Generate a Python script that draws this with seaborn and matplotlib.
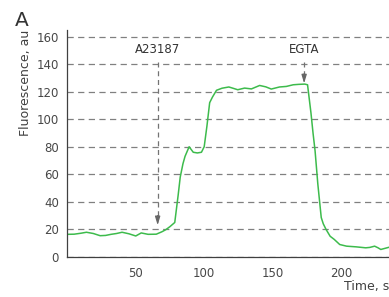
import matplotlib
matplotlib.use('Agg')
import pandas as pd
import seaborn as sns
from matplotlib import pyplot as plt

# time course
time_s = [0, 5, 10, 14, 19, 24, 28, 32, 36, 40, 45, 50, 54, 59, 65, 69, 72, 75, 78.5, 81, 82.5, 84.5, 86, 89, 92, 95, 98, 100, 102, 104, 106, 109,
          113, 118, 121, 124.5, 129.5, 134.5, 140.5, 145, 149, 155, 160, 165, 169, 173.5, 175.5, 178, 179.5, 181, 183, 185.5,
          187, 189, 192, 195, 199, 204, 211, 218, 221, 224.5, 227, 229, 232, 235]
fluor_au = [16.4, 16.5, 17.2, 17.9, 17.0, 15.4, 15.6, 16.4, 17.0, 17.9, 16.8, 15.2, 17.4, 16.4, 16.5, 18.2, 19.8, 22.0, 25.0, 45, 58, 67.7, 73, 80, 76, 75.5, 76, 80, 95, 112, 116, 121,
            122.5, 123.4, 122.5, 121.4, 122.6, 122.0, 124.5, 123.5, 121.9, 123.4, 123.8, 125.0, 125.3, 125.5, 125.0, 104.5, 90, 77, 53, 28.6,
            24, 20, 15, 12.7, 9.0, 7.8, 7.3, 6.6, 6.9, 7.8, 6.6, 5.4, 6.2, 7.0]

# (label, time, text height, arrow tip height)
events = [('A23187', 66, 150.5, 23), ('EGTA', 173, 150.5, 126)]

df = pd.DataFrame({'time': time_s, 'fluor': fluor_au})

sns.set_style('white')
plt.rcParams['font.family'] = ['DejaVu Sans']

fig = plt.figure(figsize=(3.89, 2.97), dpi=100)
ax = fig.add_axes([0.173, 0.135, 0.827, 0.765])

sns.lineplot(data=df, x='time', y='fluor', color='#3dbb4c', lw=1.1, ax=ax)

ax.set_xlim(0, 235)
ax.set_ylim(0, 165)
ax.set_xticks([50, 100, 150, 200])
ax.set_yticks(range(0, 161, 20))
ax.yaxis.grid(True, color='0.5', ls=(0, (5, 3.5)), lw=0.9)
ax.set_axisbelow(True)
for side in ['top', 'right']:
    ax.spines[side].set_visible(False)
for side in ['left', 'bottom']:
    ax.spines[side].set_color('0.25')
    ax.spines[side].set_linewidth(0.9)
ax.tick_params(axis='both', direction='out', length=4, width=0.9, color='0.25',
               labelsize=8.5, labelcolor='0.28', pad=2)
ax.tick_params(axis='x', pad=3)

ax.set_xlabel('Time, s', loc='right', fontsize=9, color='0.25', labelpad=0)
ax.set_ylabel('Fluorescence, au', loc='top', fontsize=9, color='0.25', labelpad=3)

for name, t, ytxt, ytip in events:
    ax.text(t, ytxt, name, ha='center', va='center', fontsize=8.5, color='0.2')
    ax.plot([t, t], [ytxt - 9, ytip + 7], color='0.45', ls=(0, (4, 3)), lw=0.9)
    ax.annotate('', xy=(t, ytip), xytext=(t, ytip + 7),
                arrowprops=dict(arrowstyle='-|>,head_length=0.5,head_width=0.15',
                                color='0.4', lw=0.9, shrinkA=0, shrinkB=0))

fig.text(0.038, 0.931, 'A', fontsize=14.5, color='0.2', ha='left', va='center')

fig.savefig('out.png', dpi=100)
